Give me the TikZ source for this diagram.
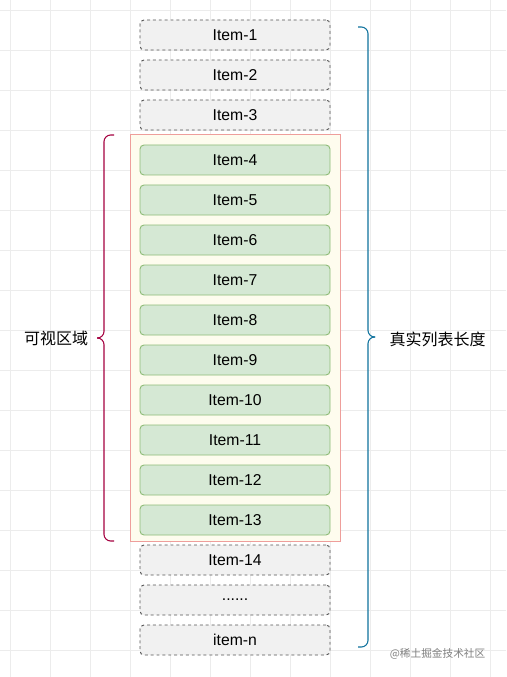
\documentclass[tikz,border=0pt]{standalone}
\usepackage{fontspec}
\setmainfont{Liberation Sans}
\newfontfamily\cjk{Noto Sans CJK SC}
\definecolor{gridgray}{HTML}{ECECEC}
\definecolor{itemline}{HTML}{555555}
\definecolor{itemfill}{HTML}{F1F1F1}
\definecolor{viewline}{HTML}{8FBC78}
\definecolor{viewfill}{HTML}{D5E8D4}
\definecolor{areaLine}{HTML}{EE9E9B}
\definecolor{areaFill}{HTML}{FEFCEE}
\definecolor{leftbrace}{HTML}{A50040}
\definecolor{rightbrace}{HTML}{10739E}
\begin{document}
\begin{tikzpicture}[x=0.75pt, y=-0.75pt,
        itembox/.style={draw=itemline, fill=itemfill, dash pattern=on 2.2pt off 2.2pt,
          line width=0.7pt, rounded corners=3pt, minimum width=142.5pt, minimum height=22.5pt,
          inner sep=0pt, font=\fontsize{11.8}{13}\selectfont},
        viewbox/.style={itembox, solid, draw=viewline, fill=viewfill},
        bracelabel/.style={font=\cjk\fontsize{12}{14}\selectfont}
      ]
      % background and grid
      \useasboundingbox (0, 0) rectangle (506, 677);
      \fill[white] (0, 0) rectangle (506, 677);
      \foreach \gx in {10, 50, ..., 490}
        \draw[gridgray, line width=0.6pt] (\gx, 0) -- (\gx, 677);
      \foreach \gy in {10, 50, ..., 650}
        \draw[gridgray, line width=0.6pt] (0, \gy) -- (506, \gy);

      % visible area
      \draw[areaLine, fill=areaFill, line width=0.75pt] (130, 135) rectangle (340, 541);

      % items above
      \node[itembox] at (235, 35) (i1) {Item-1};
      \node[itembox] at (235, 75) (i2) {Item-2};
      \node[itembox] at (235, 115) (i3) {Item-3};
      % items in view
      \node[viewbox] at (235, 160) (i4) {Item-4};
      \node[viewbox] at (235, 200) (i5) {Item-5};
      \node[viewbox] at (235, 240) (i6) {Item-6};
      \node[viewbox] at (235, 280) (i7) {Item-7};
      \node[viewbox] at (235, 320) (i8) {Item-8};
      \node[viewbox] at (235, 360) (i9) {Item-9};
      \node[viewbox] at (235, 400) (i10) {Item-10};
      \node[viewbox] at (235, 440) (i11) {Item-11};
      \node[viewbox] at (235, 480) (i12) {Item-12};
      \node[viewbox] at (235, 520) (i13) {Item-13};
      % items below
      \node[itembox] at (235, 560) (i14) {Item-14};
      \node[itembox] at (235, 600) (idots) {......};
      \node[itembox] at (235, 640) (in) {item-n};

      % left brace
      \draw[leftbrace, line width=0.8pt, rounded corners=5pt]
        (114, 135) -- (104, 135) -- (104, 338) -- (97, 338);
      \draw[leftbrace, line width=0.8pt, rounded corners=5pt]
        (97, 338) -- (104, 338) -- (104, 541) -- (114, 541);
      \node[bracelabel] at (56, 338) (view) {可视区域};

      % right brace
      \draw[rightbrace, line width=0.8pt, rounded corners=5pt]
        (358, 27) -- (368, 27) -- (368, 337) -- (375, 337);
      \draw[rightbrace, line width=0.8pt, rounded corners=5pt]
        (375, 337) -- (368, 337) -- (368, 647) -- (358, 647);
      \node[bracelabel, anchor=west] at (385, 339) (total) {真实列表长度};

      % watermark
      \node[anchor=east, text=gray, font=\cjk\fontsize{8}{10}\selectfont] at (490, 654) (mark) {@稀土掘金技术社区};
  \end{tikzpicture}
\end{document}
